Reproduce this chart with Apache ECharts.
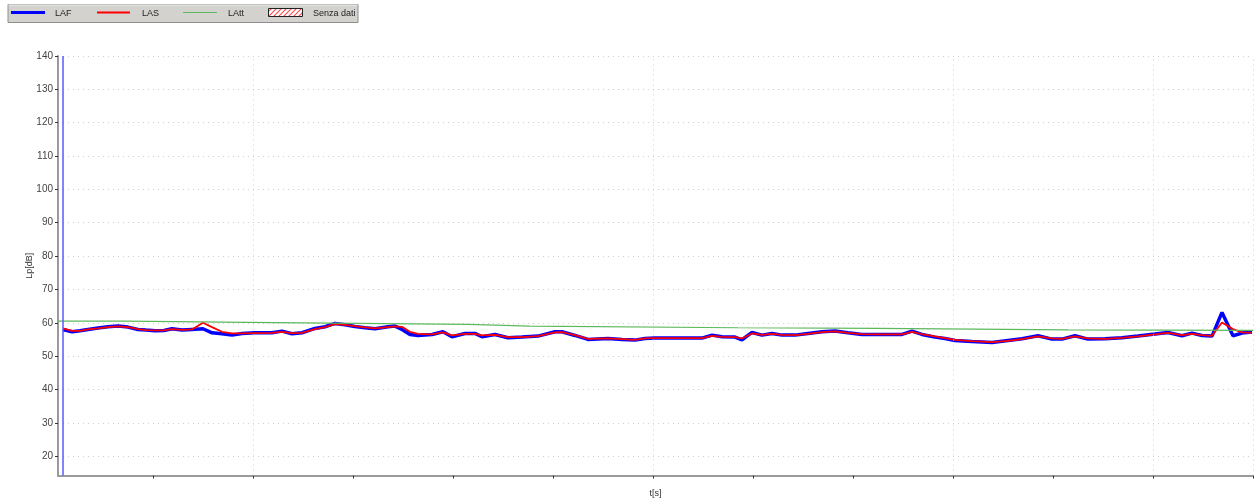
<!DOCTYPE html>
<html>
<head>
<meta charset="utf-8">
<script src="https://cdn.jsdelivr.net/npm/echarts/dist/echarts.min.js"></script>
<style>
html,body{margin:0;padding:0;background:#fff;}
#c{width:1257px;height:502px;}
</style>
</head>
<body>
<div id="c"></div>
<script>
// time positions (t) of samples
const tLAF = [5,14,22,30,40,50,60,70,80,88,97,106,114,124,134,145,154,164,174,184,197,214,224,234,244,257,267,277,287,297,307,317,330,337,344,352,360,374,385,394,407,417,424,437,450,464,480,497,504,517,530,550,564,577,587,597,622,644,654,664,677,684,694,704,714,724,737,750,764,777,790,804,817,830,844,854,864,877,887,897,914,934,950,964,980,994,1004,1017,1030,1047,1064,1080,1097,1110,1124,1134,1144,1154,1164,1175,1184,1194];
const LAF = [58.0,57.3,57.6,58.0,58.4,58.8,59.0,58.7,58.0,57.8,57.6,57.7,58.2,57.8,58.0,58.2,57.0,56.7,56.3,56.8,57.0,57.0,57.5,56.7,57.0,58.3,58.8,59.8,59.4,58.9,58.5,58.2,58.8,59.0,58.0,56.5,56.2,56.5,57.3,55.8,56.8,56.8,55.8,56.5,55.5,55.7,56.0,57.3,57.3,56.2,55.0,55.3,55.0,54.8,55.3,55.4,55.4,55.4,56.3,55.8,55.7,54.9,57.1,56.3,56.8,56.3,56.3,56.8,57.3,57.5,57.0,56.5,56.5,56.5,56.5,57.5,56.5,55.7,55.3,54.7,54.4,54.1,54.7,55.2,56.1,55.1,55.1,56.1,55.1,55.2,55.5,56.0,56.6,57.1,56.1,56.9,56.2,56.0,63.1,56.1,56.9,57.2];
const LAS = [58.3,57.6,57.6,58.0,58.3,58.7,58.9,58.7,58.1,57.8,57.7,57.7,58.1,57.9,58.0,60.0,58.7,57.3,56.8,56.8,56.9,57.0,57.3,56.9,57.0,58.1,58.7,59.6,59.4,59.0,58.6,58.3,58.7,58.9,58.8,57.3,56.7,56.5,57.1,56.2,56.7,56.7,56.2,56.4,55.7,55.7,56.0,57.1,57.2,56.3,55.2,55.3,55.1,54.9,55.3,55.4,55.4,55.4,56.1,55.8,55.7,55.3,56.8,56.4,56.7,56.4,56.3,56.7,57.2,57.4,57.0,56.6,56.5,56.5,56.5,57.3,56.6,55.9,55.4,54.9,54.5,54.2,54.6,55.1,55.9,55.3,55.2,55.9,55.3,55.2,55.5,55.9,56.5,57.0,56.3,56.7,56.3,56.1,60.1,58.1,57.1,57.0];
// LAtt step values (value holds until the next change point)
const tLAtt = [0,67,190,300,410,472,680,820,1010,1195];
const LAtt = [60.5,60.1,59.8,59.5,59.0,58.5,58.3,57.9,57.7,57.7];
// axes
const xTicks = [95,195,295,395,495,595,695,795,895,995,1095,1195];
const xGrid = [195,595,895,1095,1195];
const yTicks = [20,30,40,50,60,70,80,90,100,110,120,130,140];
const cursorT = 4.7;
const legendNames = ['LAF','LAS','LAtt','Senza dati'];

const chart = echarts.init(document.getElementById('c'), null, {renderer:'canvas'});

// hatch pattern for "Senza dati"
const pc = document.createElement('canvas');
pc.width = 5; pc.height = 5;
const pctx = pc.getContext('2d');
pctx.fillStyle = '#fff'; pctx.fillRect(0,0,5,5);
pctx.strokeStyle = '#ff5050'; pctx.lineWidth = 1.2;
pctx.beginPath(); pctx.moveTo(0,5); pctx.lineTo(5,0); pctx.stroke();
pctx.beginPath(); pctx.moveTo(-1,1); pctx.lineTo(1,-1); pctx.stroke();
pctx.beginPath(); pctx.moveTo(4,6); pctx.lineTo(6,4); pctx.stroke();

const font = 'Liberation Sans, Arial, sans-serif';
const pairs = (xs, ys) => xs.map((x,i)=>[x, ys[i]]);
const lf = '9px ' + font;

const legendGraphic = [
  {type:'rect', shape:{x:8,y:4.5,width:350,height:18}, style:{fill:'#d4d2cf', stroke:'#8e8e8e', lineWidth:1}},
  {type:'line', shape:{x1:8.5,y1:5,x2:357.5,y2:5}, style:{stroke:'#f2f2f2', lineWidth:1}},
  {type:'line', shape:{x1:11,y1:12.5,x2:45,y2:12.5}, style:{stroke:'#0000ff', lineWidth:3}},
  {type:'text', x:55, y:13.5, style:{text:legendNames[0], font:lf, fill:'#222', verticalAlign:'middle'}},
  {type:'line', shape:{x1:97,y1:12.5,x2:130,y2:12.5}, style:{stroke:'#ff0000', lineWidth:2}},
  {type:'text', x:142, y:13.5, style:{text:legendNames[1], font:lf, fill:'#222', verticalAlign:'middle'}},
  {type:'line', shape:{x1:183,y1:12.5,x2:217,y2:12.5}, style:{stroke:'#5cb85c', lineWidth:1}},
  {type:'text', x:228, y:13.5, style:{text:legendNames[2], font:lf, fill:'#222', verticalAlign:'middle'}},
  {type:'rect', shape:{x:268.5,y:8.5,width:34,height:8}, style:{fill:{image:pc, repeat:'repeat'}, stroke:'#222', lineWidth:1}},
  {type:'text', x:313, y:13.5, style:{text:legendNames[3], font:lf, fill:'#222', verticalAlign:'middle'}}
];

chart.setOption({
  animation:false,
  backgroundColor:'#fff',
  graphic: legendGraphic,
  grid:{left:58, right:4, top:56, bottom:26.5, containLabel:false, outerBoundsMode:'none'},
  xAxis:{
    type:'value', min:0, max:1195,
    name:'t[s]', nameLocation:'middle', nameGap:14, nameMoveOverlap:false,
    nameTextStyle:{fontFamily:font, fontSize:9, color:'#333'},
    axisLine:{show:true, onZero:false, lineStyle:{color:'#9a9a9a', width:2}},
    axisTick:{show:true, customValues:xTicks, length:3, lineStyle:{color:'#333', width:1}},
    axisLabel:{show:false},
    splitLine:{show:false}
  },
  yAxis:{
    type:'value', min:14.2, max:140, minInterval:10, maxInterval:10,
    name:'Lp[dB]', nameLocation:'middle', nameGap:24, nameRotate:90, nameMoveOverlap:false,
    nameTextStyle:{fontFamily:font, fontSize:9, color:'#333'},
    axisLine:{show:true, onZero:false, lineStyle:{color:'#9a9a9a', width:2}},
    axisTick:{show:true, customValues:yTicks, length:3, lineStyle:{color:'#333', width:1}},
    axisLabel:{customValues:yTicks, margin:5, fontFamily:font, fontSize:10, color:'#444'},
    splitLine:{show:true, lineStyle:{color:'#cfcfcf', width:1, type:[1,4]}}
  },
  series:[
    {
      name:'grid', type:'line', data:[], silent:true, z:1,
      markLine:{
        silent:true, symbol:'none', label:{show:false}, animation:false,
        lineStyle:{color:'#cfcfcf', width:1, type:[1,4]},
        data: xGrid.map(v=>({xAxis:v}))
      }
    },
    {
      name:'cursor', type:'line', data:[], silent:true, z:5,
      markLine:{
        silent:true, symbol:'none', label:{show:false}, animation:false,
        lineStyle:{color:'#5a5aff', width:1.5, type:'solid'},
        data:[{xAxis:cursorT}]
      }
    },
    {name:'LAF', type:'line', data:pairs(tLAF, LAF), showSymbol:false, z:2,
     lineStyle:{color:'#0000ff', width:3.5}},
    {name:'LAS', type:'line', data:pairs(tLAF, LAS), showSymbol:false, z:3,
     lineStyle:{color:'#ff0000', width:1.8}},
    {name:'LAtt', type:'line', step:'end', data:pairs(tLAtt, LAtt), showSymbol:false, z:4,
     lineStyle:{color:'#5cb85c', width:1.2}}
  ]
});
</script>
</body>
</html>
